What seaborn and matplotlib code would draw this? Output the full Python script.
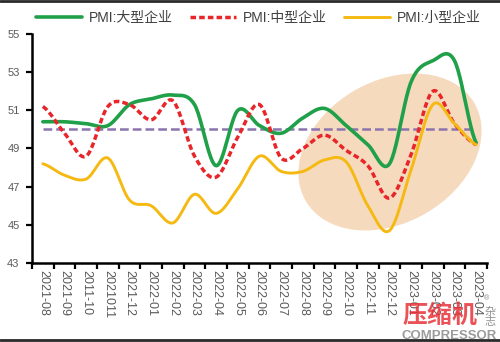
import numpy as np
import pandas as pd
import matplotlib
matplotlib.use("Agg")
import matplotlib.pyplot as plt
import seaborn as sns
from matplotlib.patches import Ellipse
from matplotlib.lines import Line2D

# ---- data ----
labels = ['2021-08', '2021-09', '2011-10', '2021011', '2021-12', '2022-01', '2022-02',
          '2022-03', '2022-04', '2022-05', '2022-06', '2022-07', '2022-08', '2022-09',
          '2022-10', '2022-11', '2022-12', '2023-01', '2023-02', '2023-03', '2023-04']
large = [50.4, 50.4, 50.3, 50.2, 51.3, 51.6, 51.8, 51.3, 48.1, 51.0, 50.2, 49.8, 50.6,
         51.1, 50.2, 49.2, 48.2, 52.5, 53.6, 53.6, 49.3]
medium = [51.2, 49.8, 48.6, 51.2, 51.3, 50.5, 51.5, 48.6, 47.5, 49.6, 51.3, 48.5, 49.0,
          49.7, 48.9, 48.1, 46.4, 48.7, 52.0, 50.3, 49.2]
small = [48.2, 47.6, 47.4, 48.5, 46.3, 46.0, 45.1, 46.6, 45.6, 46.9, 48.6, 47.8, 47.8,
         48.4, 48.3, 46.0, 44.7, 47.9, 51.3, 50.3, 49.2]
series_names = ['PMI:大型企业', 'PMI:中型企业', 'PMI:小型企业']
threshold = 50
yticks = [43, 45, 47, 49, 51, 53, 55]


def smooth(vals, n=24):
    """Catmull-Rom rendering of a series (Excel-like smoothed line)."""
    y = np.asarray(vals, float)
    p = np.concatenate([[y[0]], y, [y[-1]]])
    xs, ys = [], []
    t = np.linspace(0, 1, n, endpoint=False)
    for i in range(len(y) - 1):
        p0, p1, p2, p3 = p[i], p[i + 1], p[i + 2], p[i + 3]
        yy = 0.5 * (2 * p1 + (-p0 + p2) * t + (2 * p0 - 5 * p1 + 4 * p2 - p3) * t ** 2
                    + (-p0 + 3 * p1 - 3 * p2 + p3) * t ** 3)
        xs.extend(i + t)
        ys.extend(yy)
    xs.append(len(y) - 1)
    ys.append(y[-1])
    return np.array(xs), np.array(ys)


sns.set_theme(style="white")
plt.rcParams['font.family'] = ['Liberation Sans', 'Noto Sans CJK SC', 'DejaVu Sans']

fig = plt.figure(figsize=(5, 3.42), dpi=100)
ax = fig.add_axes([0.064, 0.231, 0.91, 0.6696])

# highlight ellipse (drawn in inch units so it keeps its shape)
ell = Ellipse((3.90, 1.90), width=1.95, height=1.42, angle=30,
              transform=fig.dpi_scale_trans, facecolor='#F5D8BB', edgecolor='none',
              alpha=0.95, zorder=0)
fig.add_artist(ell)
ax.set_facecolor('none')
ax.patch.set_alpha(0)

# threshold line
ax.hlines(threshold, 0, len(labels) - 1, colors='#8C74AE', linestyles=(0, (3.5, 1.6)),
          linewidth=1.8, zorder=2)

styles = [
    dict(color='#1FA049', lw=2.6, ls='-'),
    dict(color='#E8262A', lw=2.5, ls=(0, (1.6, 0.9))),
    dict(color='#F5B911', lw=2.1, ls='-'),
]
for name, vals, st in zip(series_names, [large, medium, small], styles):
    xs, ys = smooth(vals)
    df = pd.DataFrame({'x': xs, 'y': ys})
    sns.lineplot(data=df, x='x', y='y', ax=ax, color=st['color'], linewidth=st['lw'],
                 linestyle=st['ls'], zorder=3, sort=False, estimator=None)

ax.set_xlim(-0.5, len(labels) - 0.5)
ax.set_ylim(43, 55)
ax.set_yticks(yticks)
ax.set_yticklabels([str(v) for v in yticks])
ax.set_xlabel('')
ax.set_ylabel('')

ax.set_xticks(np.arange(-0.5, len(labels)), minor=False)
ax.set_xticklabels([''] * (len(labels) + 1))
ax.set_xticks(np.arange(len(labels)), minor=True)
ax.set_xticklabels(labels, minor=True, rotation=270, fontsize=9, color='#5A5A5A',
                   va='top', ha='center')
ax.tick_params(axis='x', which='major', direction='out', length=4, width=1.6,
               color='black', bottom=True)
ax.tick_params(axis='x', which='minor', length=0, pad=5, bottom=True)
ax.tick_params(axis='y', direction='out', length=4, width=1.6, color='black', left=True,
               labelsize=8, labelcolor='#5A5A5A', pad=5)

for s in ['top', 'right']:
    ax.spines[s].set_visible(False)
for s in ['left', 'bottom']:
    ax.spines[s].set_color('black')
    ax.spines[s].set_linewidth(1.8)
ax.grid(False)

# legend
handles = [Line2D([], [], color=st['color'], lw=st['lw'], ls=st['ls']) for st in styles]
fig.legend(handles, series_names, loc='center', bbox_to_anchor=(0.517, 1 - 18 / 342),
           ncol=3, frameon=False, fontsize=10, handlelength=3.3, handletextpad=0.55,
           columnspacing=1.2, labelcolor='#404040')

# frame lines at top and bottom of the image
fig.add_artist(Line2D([0, 1], [1 - 1 / 342, 1 - 1 / 342], transform=fig.transFigure,
                      color='#2A2A2A', lw=2))
fig.add_artist(Line2D([0, 1], [2 / 342, 2 / 342], transform=fig.transFigure,
                      color='#2A2A2A', lw=2))

# watermark
fig.text(440 / 500, 1 - 316 / 342, '压缩机', fontsize=18, fontweight='bold',
         color='#E8343A', alpha=0.85, ha='center', va='center',
         family=['Noto Sans CJK SC'])
fig.text(449 / 500, 1 - 336 / 342, 'COMPRESSOR', fontsize=9.5, fontweight='bold',
         color='#8A8A8A', alpha=0.85, ha='center', va='center')
fig.text(490 / 500, 1 - 317 / 342, '杂\n志', fontsize=8, color='#808080', alpha=0.85,
         ha='center', va='center', linespacing=1.0, family=['Noto Sans CJK SC'])
fig.text(487 / 500, 1 - 299 / 342, '®', fontsize=5, color='#808080', ha='center',
         va='center')

fig.savefig('out.png', dpi=100)
